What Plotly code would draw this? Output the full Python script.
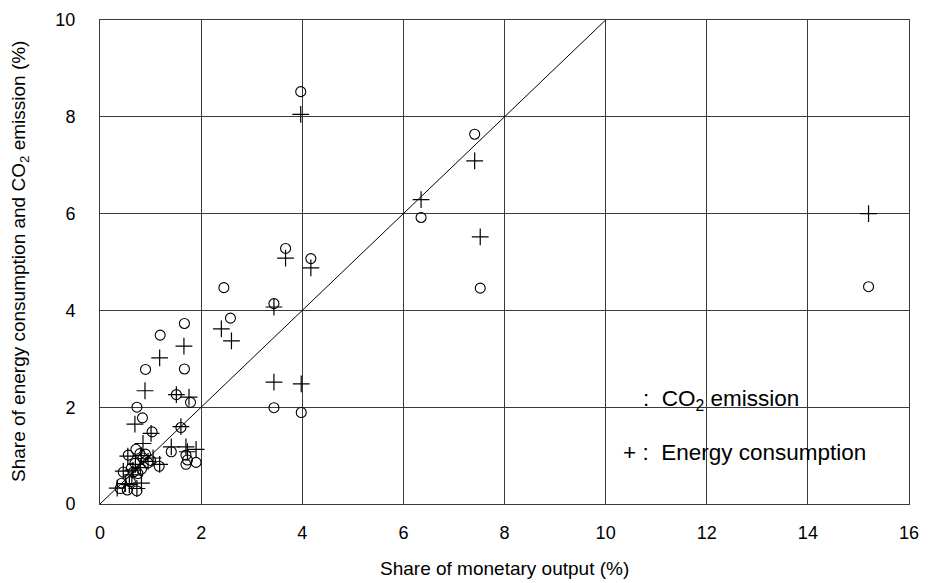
import plotly.graph_objects as go

# CO2 emission (open circles): share of monetary output (%), share of CO2 emission (%)
co2_x = [3.97, 7.41, 6.35, 7.52, 15.2, 3.67, 4.17, 2.45, 3.44, 2.58, 3.44, 3.98,
         1.67, 1.19, 0.90, 1.67, 1.51, 1.79, 0.73, 0.84, 1.60, 1.03, 0.71, 1.41,
         1.70, 1.73, 1.90, 1.70, 0.56, 0.79, 0.90, 0.95, 1.17, 0.69, 0.46, 0.66,
         0.82, 0.75, 0.43, 0.60, 0.40, 0.73, 0.54, 0.85, 1.00, 0.62]
co2_y = [8.52, 7.64, 5.92, 4.46, 4.49, 5.28, 5.07, 4.47, 4.14, 3.84, 1.99, 1.89,
         3.73, 3.49, 2.78, 2.79, 2.26, 2.10, 2.00, 1.78, 1.58, 1.49, 1.13, 1.08,
         1.01, 0.91, 0.86, 0.82, 1.01, 1.04, 1.03, 0.85, 0.78, 0.84, 0.66, 0.66,
         0.72, 0.63, 0.43, 0.46, 0.32, 0.27, 0.29, 0.95, 0.90, 0.74]

# Energy consumption (plus signs)
energy_x = [3.97, 7.41, 6.35, 7.52, 15.2, 3.67, 4.17, 2.40, 3.44, 2.60, 3.44, 3.98,
            1.66, 1.18, 0.89, 1.51, 1.76, 0.69, 1.60, 1.01, 0.85, 1.41, 1.70, 1.90,
            0.55, 0.82, 0.95, 1.18, 0.70, 0.46, 0.63, 0.82, 0.34, 0.73, 0.58, 0.80,
            1.05, 0.65, 1.73, 0.50]
energy_y = [8.05, 7.09, 6.29, 5.52, 6.00, 5.08, 4.88, 3.62, 4.07, 3.37, 2.52, 2.48,
            3.26, 3.02, 2.34, 2.26, 2.21, 1.65, 1.60, 1.46, 1.25, 1.18, 1.18, 1.13,
            0.99, 1.00, 0.88, 0.82, 0.82, 0.68, 0.60, 0.43, 0.33, 0.32, 0.40, 0.75,
            0.95, 0.70, 1.08, 0.42]

# 45-degree reference line
diag_x = [0, 10]
diag_y = [0, 10]

x_ticks = [0, 2, 4, 6, 8, 10, 12, 14, 16]
y_ticks = [0, 2, 4, 6, 8, 10]

FONT = "Liberation Sans, Arial, sans-serif"

fig = go.Figure()
fig.add_trace(go.Scatter(x=diag_x, y=diag_y, mode="lines",
                         line=dict(color="black", width=1), showlegend=False,
                         hoverinfo="skip"))
fig.add_trace(go.Scatter(x=co2_x, y=co2_y, mode="markers", name="CO2 emission",
                         marker=dict(symbol="circle-open", size=10, color="black",
                                     line=dict(width=1.1, color="black")),
                         showlegend=False))
fig.add_trace(go.Scatter(x=energy_x, y=energy_y, mode="markers", name="Energy consumption",
                         marker=dict(symbol="cross-thin-open", size=12, color="black",
                                     line=dict(width=1.2, color="black")),
                         showlegend=False))

axis_common = dict(showgrid=True, gridcolor="#3a3a3a", gridwidth=1,
                   showline=True, linecolor="#3a3a3a", linewidth=1, mirror=True,
                   zeroline=False, ticks="", tickfont=dict(family=FONT, size=18, color="black"))

fig.update_xaxes(range=[0, 16], tickvals=x_ticks, ticklabelstandoff=12, **axis_common)
fig.update_yaxes(range=[0, 10], tickvals=y_ticks, ticklabelstandoff=20, **axis_common)

fig.update_layout(
    width=929, height=583,
    margin=dict(l=100, r=10, t=18, b=79),
    plot_bgcolor="white", paper_bgcolor="white",
    font=dict(family=FONT, color="black"),
    annotations=[
        dict(text="Share of monetary output (%)", xref="paper", yref="paper",
             x=0.5, y=0, yshift=-64, xanchor="center", yanchor="middle",
             showarrow=False, font=dict(size=19, family=FONT)),
        dict(text="Share of energy consumption and CO<sub>2</sub> emission (%)",
             xref="paper", yref="paper", x=0, xshift=-80, y=0.5,
             xanchor="center", yanchor="middle", textangle=-90,
             showarrow=False, font=dict(size=19, family=FONT)),
        dict(text=":  CO<sub>2</sub> emission", xref="x", yref="y",
             x=10.7, y=2.14, xanchor="left", yanchor="middle",
             showarrow=False, font=dict(size=22.5, family=FONT)),
        dict(text="+ :  Energy consumption", xref="x", yref="y",
             x=10.3, y=1.07, xanchor="left", yanchor="middle",
             showarrow=False, font=dict(size=22.5, family=FONT)),
    ],
)

fig.write_html("out.html")
